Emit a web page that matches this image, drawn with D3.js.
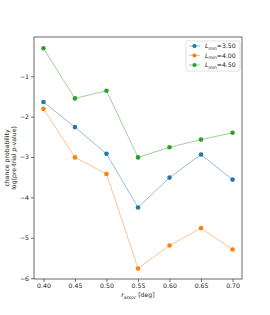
<!DOCTYPE html>
<html>
<head>
<meta charset="utf-8">
<script src="https://cdn.jsdelivr.net/npm/d3@7"></script>
<style>
  body { margin: 0; background: #fff; }
  text { font-family: "DejaVu Sans", sans-serif; }
</style>
</head>
<body>
<div id="chart"></div>
<script>
// Data
const rAssoc = [0.40, 0.45, 0.50, 0.55, 0.60, 0.65, 0.70];
const lmin350 = [-1.64, -2.26, -2.92, -4.25, -3.51, -2.94, -3.56];
const lmin400 = [-1.81, -3.01, -3.42, -5.76, -5.19, -4.76, -5.29];
const lmin450 = [-0.31, -1.55, -1.36, -3.01, -2.76, -2.57, -2.40];
const seriesNames = ["3.50", "4.00", "4.50"];
const colors = ["#1f77b4", "#ff7f0e", "#2ca02c"];
const xTicks = [0.40, 0.45, 0.50, 0.55, 0.60, 0.65, 0.70];
const yTicks = [-6, -5, -4, -3, -2, -1];

const series = [lmin350, lmin400, lmin450];

const W = 270, H = 315;
const plot = { left: 34, right: 242, top: 37, bottom: 279 };

const svg = d3.select("#chart").append("svg")
    .attr("width", W)
    .attr("height", H);

const x = d3.scaleLinear().domain([0.385, 0.715]).range([plot.left, plot.right]);
const y = d3.scaleLinear().domain([-6.02, -0.03]).range([plot.bottom, plot.top]);

// Axes
const xAxis = svg.append("g")
    .attr("transform", `translate(0,${plot.bottom})`)
    .call(d3.axisBottom(x).tickValues(xTicks).tickFormat(d3.format(".2f")).tickSize(3).tickPadding(2));
const yAxis = svg.append("g")
    .attr("transform", `translate(${plot.left},0)`)
    .call(d3.axisLeft(y).tickValues(yTicks).tickFormat(d => "\u2212" + Math.abs(d)).tickSize(3).tickPadding(2));

[xAxis, yAxis].forEach(a => {
    a.select(".domain").remove();
    a.selectAll("text").attr("font-size", 6.2).attr("fill", "#222");
    a.selectAll("line").attr("stroke", "#333").attr("stroke-width", 0.7);
});

// Frame
svg.append("rect")
    .attr("x", plot.left).attr("y", plot.top)
    .attr("width", plot.right - plot.left).attr("height", plot.bottom - plot.top)
    .attr("fill", "none").attr("stroke", "#444").attr("stroke-width", 0.8);

// Lines and markers
const line = d3.line().x((d, i) => x(rAssoc[i])).y(d => y(d));

series.forEach((vals, k) => {
    svg.append("path")
        .datum(vals)
        .attr("d", line)
        .attr("fill", "none")
        .attr("stroke", colors[k])
        .attr("stroke-opacity", 0.6)
        .attr("stroke-width", 0.8);
    svg.append("g").selectAll("circle")
        .data(vals)
        .enter()
        .append("circle")
        .attr("cx", (d, i) => x(rAssoc[i]))
        .attr("cy", d => y(d))
        .attr("r", 2.3)
        .attr("fill", colors[k]);
});

// Legend
const legend = svg.append("g").attr("transform", "translate(186,41)");
legend.append("rect")
    .attr("width", 54).attr("height", 30)
    .attr("rx", 1.5)
    .attr("fill", "#fff").attr("fill-opacity", 0.8)
    .attr("stroke", "#ccc").attr("stroke-width", 0.6);
seriesNames.forEach((name, k) => {
    const row = legend.append("g").attr("transform", `translate(0,${5 + k * 9.5})`);
    row.append("line")
        .attr("x1", 3).attr("x2", 14)
        .attr("stroke", colors[k]).attr("stroke-opacity", 0.6).attr("stroke-width", 0.8);
    row.append("circle").attr("cx", 8.5).attr("r", 2.1).attr("fill", colors[k]);
    const t = row.append("text")
        .attr("x", 19).attr("y", 2.2)
        .attr("font-size", 6.2).attr("fill", "#222");
    t.append("tspan").attr("font-style", "italic").text("L");
    t.append("tspan").attr("font-size", 4.4).attr("dy", 1.5).text("min");
    t.append("tspan").attr("dy", -1.5).text("=" + name);
});

// Axis labels
const xl = svg.append("text")
    .attr("x", (plot.left + plot.right) / 2)
    .attr("y", 297)
    .attr("text-anchor", "middle")
    .attr("font-size", 6.2).attr("fill", "#222");
xl.append("tspan").attr("font-style", "italic").text("r");
xl.append("tspan").attr("font-style", "italic").attr("font-size", 4.4).attr("dy", 1.5).text("assoc");
xl.append("tspan").attr("dy", -1.5).text(" [deg]");

const yl = svg.append("text")
    .attr("transform", `translate(9,${(plot.top + plot.bottom) / 2}) rotate(-90)`)
    .attr("text-anchor", "middle")
    .attr("font-size", 6.2).attr("fill", "#222");
yl.append("tspan").attr("x", 0).attr("dy", 0).text("chance probability");
const yl2 = yl.append("tspan").attr("x", 0).attr("dy", 7.2);
yl2.append("tspan").text("log(pre-trial ");
yl2.append("tspan").attr("font-style", "italic").text("p");
yl2.append("tspan").text("-value)");
</script>
</body>
</html>
